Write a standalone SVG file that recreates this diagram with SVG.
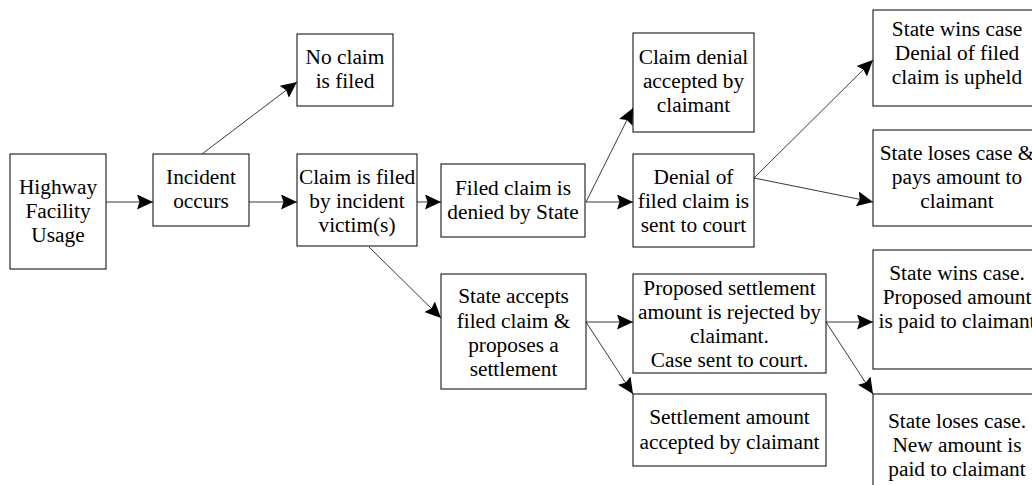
<svg xmlns="http://www.w3.org/2000/svg" width="1032" height="485" viewBox="0 0 1032 485">
<style>
.box{fill:#fff;stroke:#000;stroke-width:1}
.t{font-family:"Liberation Serif","Times New Roman",serif;font-size:21.33px;fill:#000;text-anchor:middle}
.c{stroke:#222;stroke-width:0.9;fill:none;marker-end:url(#ah)}
</style>
<defs>
<marker id="ah" markerUnits="userSpaceOnUse" markerWidth="17" markerHeight="16" refX="16" refY="7.5" orient="auto">
<path d="M0,0 L16,7.5 L0,15 L2.5,7.5 Z" fill="#000"/>
</marker>
</defs>
<rect width="1032" height="485" fill="#fff"/>
<g id="connectors">
<line class="c" x1="106" y1="202" x2="153" y2="202"/>
<line class="c" x1="249" y1="202" x2="297" y2="202"/>
<line class="c" x1="202" y1="154" x2="297" y2="82"/>
<line class="c" x1="417" y1="202" x2="441" y2="202"/>
<line class="c" x1="369" y1="247" x2="441" y2="318"/>
<line class="c" x1="586" y1="202" x2="633" y2="108"/>
<line class="c" x1="586" y1="202" x2="633" y2="202"/>
<line class="c" x1="754" y1="178" x2="873" y2="60"/>
<line class="c" x1="754" y1="178" x2="873" y2="202"/>
<line class="c" x1="586" y1="322" x2="633" y2="322"/>
<line class="c" x1="586" y1="322" x2="633" y2="394"/>
<line class="c" x1="826" y1="322" x2="873" y2="322"/>
<line class="c" x1="826" y1="322" x2="873" y2="394"/>
</g>
<g id="highway"><rect class="box" x="10" y="154" width="96" height="115"/>
<text class="t" x="58"><tspan x="58" y="194">Highway</tspan><tspan x="58" y="218">Facility</tspan><tspan x="58" y="242">Usage</tspan></text></g>
<g id="incident"><rect class="box" x="153" y="154" width="96" height="72"/>
<text class="t"><tspan x="201" y="184">Incident</tspan><tspan x="201" y="208">occurs</tspan></text></g>
<g id="noclaim"><rect class="box" x="297" y="34" width="96" height="72"/>
<text class="t"><tspan x="345" y="64">No claim</tspan><tspan x="345" y="88">is filed</tspan></text></g>
<g id="claimfiled"><rect class="box" x="297" y="154" width="120" height="92"/>
<text class="t"><tspan x="357" y="184">Claim is filed</tspan><tspan x="357" y="208">by incident</tspan><tspan x="357" y="232">victim(s)</tspan></text></g>
<g id="denied"><rect class="box" x="441" y="164" width="144" height="73"/>
<text class="t"><tspan x="513" y="195">Filed claim is</tspan><tspan x="513" y="219">denied by State</tspan></text></g>
<g id="accepts"><rect class="box" x="441" y="274" width="145" height="115"/>
<text class="t"><tspan x="513.5" y="303">State accepts</tspan><tspan x="513.5" y="327.5">filed claim &amp;</tspan><tspan x="513.5" y="352">proposes a</tspan><tspan x="513.5" y="376">settlement</tspan></text></g>
<g id="denialaccepted"><rect class="box" x="633" y="33" width="121" height="99"/>
<text class="t"><tspan x="693.5" y="64">Claim denial</tspan><tspan x="693.5" y="88">accepted by</tspan><tspan x="693.5" y="112">claimant</tspan></text></g>
<g id="tocourt"><rect class="box" x="633" y="154" width="121" height="93"/>
<text class="t"><tspan x="693.5" y="184">Denial of</tspan><tspan x="693.5" y="208">filed claim is</tspan><tspan x="693.5" y="232">sent to court</tspan></text></g>
<g id="rejected"><rect class="box" x="633" y="274" width="193" height="99"/>
<text class="t"><tspan x="729.5" y="295">Proposed settlement</tspan><tspan x="729.5" y="319">amount is rejected by</tspan><tspan x="729.5" y="343">claimant.</tspan><tspan x="729.5" y="367">Case sent to court.</tspan></text></g>
<g id="settlementaccepted"><rect class="box" x="633" y="394" width="193" height="72"/>
<text class="t"><tspan x="729.5" y="424">Settlement amount</tspan><tspan x="729.5" y="449">accepted by claimant</tspan></text></g>
<g id="wins1"><rect class="box" x="873" y="10" width="180" height="96"/>
<text class="t"><tspan x="957" y="35.5">State wins case</tspan><tspan x="957" y="59.5">Denial of filed</tspan><tspan x="957" y="83.5">claim is upheld</tspan></text></g>
<g id="loses1"><rect class="box" x="873" y="130" width="180" height="96"/>
<text class="t"><tspan x="957" y="160">State loses case &amp;</tspan><tspan x="957" y="184">pays amount to</tspan><tspan x="957" y="208">claimant</tspan></text></g>
<g id="wins2"><rect class="box" x="873" y="250" width="180" height="119"/>
<text class="t"><tspan x="957" y="280">State wins case.</tspan><tspan x="957" y="304">Proposed amount</tspan><tspan x="957" y="328">is paid to claimant</tspan></text></g>
<g id="loses2"><rect class="box" x="873" y="394" width="180" height="110"/>
<text class="t"><tspan x="957" y="428">State loses case.</tspan><tspan x="957" y="452">New amount is</tspan><tspan x="957" y="476">paid to claimant</tspan></text></g>
</svg>
